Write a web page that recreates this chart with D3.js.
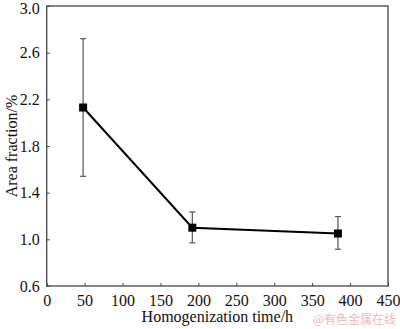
<!DOCTYPE html>
<html><head><meta charset="utf-8">
<script src="https://cdn.jsdelivr.net/npm/d3@7"></script>
<style>body{margin:0;background:#fff}svg{display:block}</style>
</head><body>
<script>
const times = [48, 192, 384];
const areaFraction = [2.13, 1.10, 1.05];
const errLow = [1.54, 0.97, 0.915];
const errHigh = [2.72, 1.235, 1.195];
const xTicks = [0, 50, 100, 150, 200, 250, 300, 350, 400, 450];
const yTicks = [0.6, 1.0, 1.4, 1.8, 2.2, 2.6, 3.0];
const xTitle = "Homogenization time/h";
const yTitle = "Area fraction/%";
const watermark = "@有色金属在线";

const W = 400, H = 329;
const L = 46.7, R = 388, T = 6, B = 286;
const svg = d3.select("body").append("svg").attr("width", W).attr("height", H);
const x = d3.scaleLinear().domain([0, 450]).range([L, R]);
const y = d3.scaleLinear().domain([0.6, 3.0]).range([B, T]);
const font = "'Liberation Serif','Times New Roman',serif";

// frame
svg.append("rect").attr("x", L).attr("y", T).attr("width", R - L).attr("height", B - T)
  .attr("fill", "none").attr("stroke", "#444").attr("stroke-width", 1.3);

// x axis
const xa = svg.append("g").attr("transform", `translate(0,${B})`)
  .call(d3.axisBottom(x).tickValues(xTicks).tickSizeInner(-3).tickSizeOuter(0).tickPadding(9).tickFormat(d3.format("d")));
xa.select(".domain").remove();
xa.selectAll("line").attr("stroke", "#444");
xa.selectAll("text").attr("font-family", font).attr("font-size", 16).attr("fill", "#111");

// y axis
const ya = svg.append("g").attr("transform", `translate(${L},0)`)
  .call(d3.axisLeft(y).tickValues(yTicks).tickSizeInner(-3).tickSizeOuter(0).tickPadding(7).tickFormat(d3.format(".1f")));
ya.select(".domain").remove();
ya.selectAll("line").attr("stroke", "#444");
ya.selectAll("text").attr("font-family", font).attr("font-size", 16).attr("fill", "#111")
  .attr("dy", d => d === 3.0 ? "0.45em" : "0.32em");

const data = times.map((t, i) => ({t, v: areaFraction[i], lo: errLow[i], hi: errHigh[i]}));

// error bars
const eb = svg.append("g").attr("stroke", "#555").attr("stroke-width", 1.2);
data.forEach(d => {
  eb.append("line").attr("x1", x(d.t)).attr("x2", x(d.t)).attr("y1", y(d.lo)).attr("y2", y(d.hi));
  eb.append("line").attr("x1", x(d.t) - 3).attr("x2", x(d.t) + 3).attr("y1", y(d.lo)).attr("y2", y(d.lo));
  eb.append("line").attr("x1", x(d.t) - 3).attr("x2", x(d.t) + 3).attr("y1", y(d.hi)).attr("y2", y(d.hi));
});

// line
svg.append("path").datum(data)
  .attr("d", d3.line().x(d => x(d.t)).y(d => y(d.v)))
  .attr("fill", "none").attr("stroke", "#000").attr("stroke-width", 2);

// markers
svg.selectAll("rect.m").data(data).enter().append("rect")
  .attr("x", d => x(d.t) - 4).attr("y", d => y(d.v) - 4)
  .attr("width", 8).attr("height", 8).attr("fill", "#000");

// titles
svg.append("text").attr("x", (L + R) / 2).attr("y", 322).attr("text-anchor", "middle")
  .attr("font-family", font).attr("font-size", 16).attr("fill", "#111").text(xTitle);
svg.append("text").attr("transform", `translate(17,${(T + B) / 2}) rotate(-90)`).attr("text-anchor", "middle")
  .attr("font-family", font).attr("font-size", 16).attr("fill", "#111").text(yTitle);

svg.append("text").attr("x", 396).attr("y", 324).attr("text-anchor", "end")
  .attr("font-family", "'Noto Sans CJK SC',sans-serif").attr("font-size", 12).attr("fill", "#f2b8c0").text(watermark);
</script>
</body></html>
